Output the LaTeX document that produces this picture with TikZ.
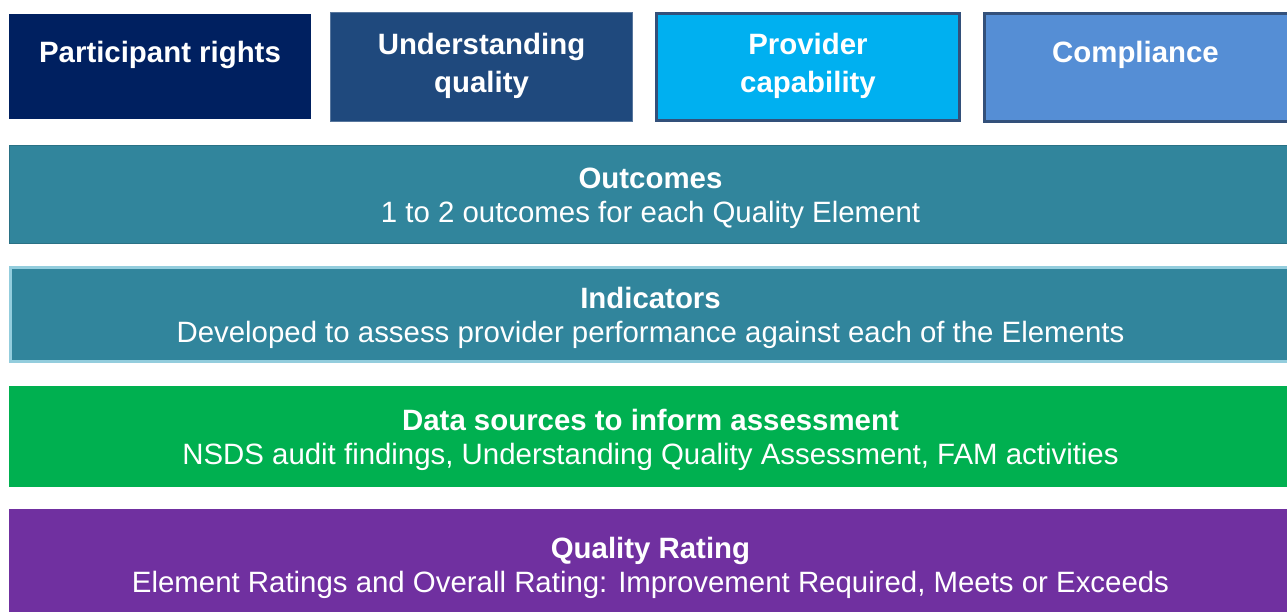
\documentclass[tikz,border=0pt]{standalone}
\usepackage{fontspec}
\setmainfont{Liberation Sans}
\definecolor{navy}{HTML}{002060}
\definecolor{steel}{HTML}{1F497D}
\definecolor{sky}{HTML}{00B0F0}
\definecolor{cornflower}{HTML}{558ED5}
\definecolor{edgeblue}{HTML}{33507A}
\definecolor{teal}{HTML}{31859C}
\definecolor{paleteal}{HTML}{93CDDD}
\definecolor{leaf}{HTML}{00B050}
\definecolor{plum}{HTML}{7030A0}
\newcommand{\bandtitle}[1]{\rule{0pt}{29pt}\textbf{#1}}

\begin{document}
\begin{tikzpicture}[x=1pt, y=-1pt,
  tile/.style={rectangle, inner sep=0pt},
  tiletext/.style={white, align=center, font=\fontsize{29.4}{38}\selectfont\bfseries},
  band/.style={rectangle, inner sep=0pt, white, align=center,
    minimum width=1283pt, font=\fontsize{29.4}{34}\selectfont}]
\useasboundingbox (0,0) rectangle (1287,612);
% the four quality elements
\node[tile, fill=navy, minimum width=302pt, minimum height=105pt] (rights) at (160, 66.5){};
\node[tile, fill=steel, draw=steel!75!white, line width=1pt, minimum width=302pt, minimum height=109pt] (understanding) at (481.5, 67){};
\node[tile, fill=sky, draw=edgeblue, line width=3pt, minimum width=303pt, minimum height=107pt] (capability) at (808, 67){};
\node[tile, fill=cornflower, draw=edgeblue, line width=3pt, minimum width=306pt, minimum height=108pt] (compliance) at (1137.5, 67.5){};
\node[tiletext] (rightsText) at (160, 55){Participant rights};
\node[tiletext] (understandingText) at (481.5, 65.5){Understanding\\quality};
\node[tiletext] (capabilityText) at (808, 65.5){Provider\\capability};
\node[tiletext] (complianceText) at (1135.5, 55){Compliance};
% the layers below
\node[band, fill=teal, draw=teal!85!black, line width=1pt, minimum height=98pt] (outcomes) at (650.5, 194.5){\bandtitle{Outcomes}\\1 to 2 outcomes for each Quality Element};
\node[band, fill=teal, draw=paleteal, line width=3pt, minimum width=1280pt, minimum height=94pt] (indicators) at (650.5, 314.5){\bandtitle{Indicators}\\Developed to assess provider performance against each of the Elements};
\node[band, fill=leaf, minimum height=101pt] (sources) at (650.5, 436.5){\bandtitle{Data sources to inform assessment}\\NSDS audit findings, Understanding Quality Assessment, FAM activities};
\node[band, fill=plum, minimum height=111pt] (rating) at (650.5, 564.5){\bandtitle{Quality Rating}\\Element Ratings and Overall Rating: Improvement Required, Meets or Exceeds};
\end{tikzpicture}
\end{document}
